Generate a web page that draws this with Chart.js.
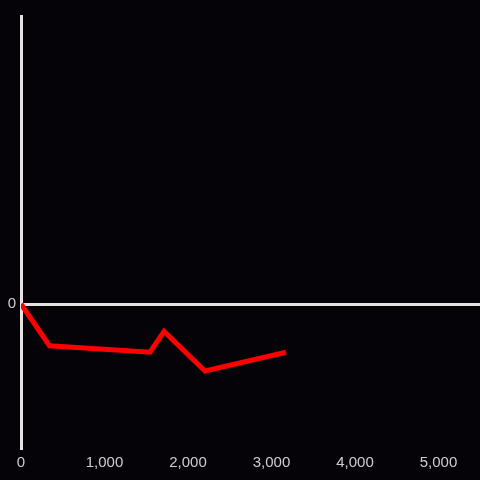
<!DOCTYPE html>
<html>
<head>
<meta charset="utf-8">
<script src="https://cdn.jsdelivr.net/npm/chart.js@4.4.0/dist/chart.umd.min.js"></script>
<style>
html, body { margin: 0; padding: 0; background: #050307; }
#wrap { width: 480px; height: 480px; }
</style>
</head>
<body>
<div id="wrap"><canvas id="chrt"></canvas></div>
<script>
var xValues = [0, 341, 1545, 1713, 2204, 3174];
var yValues = [0, -0.29, -0.335, -0.19, -0.465, -0.335];
var xTicks = [0, 1000, 2000, 3000, 4000, 5000];

var points = xValues.map(function (x, i) {
	return { x: x, y: yValues[i] };
});

const ctx = document.getElementById('chrt').getContext('2d');

new Chart(ctx, {
	type: 'line',
	data: {
		datasets: [{
			data: points,
			borderColor: '#ff0000',
			borderWidth: 5,
			pointRadius: 0,
			tension: 0,
			fill: false
		}]
	},
	options: {
		responsive: true,
		maintainAspectRatio: false,
		animation: false,
		layout: { padding: { top: 16, right: 0, left: 0, bottom: 0 } },
		plugins: {
			legend: { display: false },
			tooltip: { enabled: false }
		},
		scales: {
			x: {
				type: 'linear',
				min: 0,
				max: 5497,
				afterBuildTicks: function (scale) {
					scale.ticks = xTicks.map(function (v) { return { value: v }; });
				},
				afterFit: function (scale) { scale.height = 32; },
				grid: { display: false, drawTicks: false },
				border: { display: false },
				ticks: {
					color: '#cfcfcf',
					font: { family: 'Liberation Sans', size: 15 },
					padding: 6,
					maxRotation: 0,
					callback: function (v) { return v.toLocaleString('en-US'); }
				}
			},
			y: {
				min: -1,
				max: 2,
				afterFit: function (scale) { scale.width = 21; },
				grid: {
					drawTicks: false,
					lineWidth: 3,
					color: function (c) { return c.tick && c.tick.value === 0 ? '#e3e3e3' : 'rgba(0,0,0,0)'; }
				},
				border: { display: true, color: '#e3e3e3', width: 3 },
				ticks: {
					stepSize: 1,
					color: '#cfcfcf',
					font: { family: 'Liberation Sans', size: 15 },
					padding: 5,
					callback: function (v) { return v === 0 ? '0' : ''; }
				}
			}
		}
	}
});
</script>
</body>
</html>
